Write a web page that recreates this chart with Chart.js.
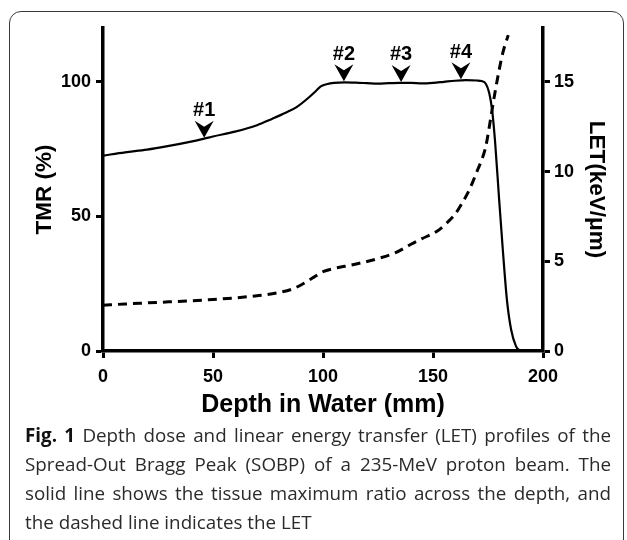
<!DOCTYPE html>
<html><head><meta charset="utf-8">
<script src="https://cdn.jsdelivr.net/npm/chart.js@4.4.1/dist/chart.umd.min.js"></script>
<style>
html,body{margin:0;padding:0;background:#fff;width:627px;height:540px;overflow:hidden;}
#frame{position:absolute;left:9px;top:11px;width:613px;height:600px;border:1.5px solid #3a3a3a;border-radius:12px;}
#wrap{position:absolute;left:0;top:0;width:627px;height:430px;}
#cap{position:absolute;left:25px;top:421px;width:586px;font-family:"Open Sans";font-size:18.8px;line-height:29px;color:#2a2a2a;}
#cap b{color:#111;}
#cap div{text-align:justify;text-align-last:justify;white-space:nowrap;}
#cap div.last{text-align-last:left;}
</style></head>
<body>
<div id="frame"></div>
<div id="wrap"><canvas id="c" width="627" height="430"></canvas></div>
<div id="cap">
<div><b>Fig. 1</b> Depth dose and linear energy transfer (LET) profiles of the</div>
<div>Spread-Out Bragg Peak (SOBP) of a 235-MeV proton beam. The</div>
<div>solid line shows the tissue maximum ratio across the depth, and</div>
<div class="last">the dashed line indicates the LET</div>
</div>
<script>
// ---- data ----
const depthTMR = [0,10,20,30,40,46,50,60,70,77,83,88,93,97,99,102,105,110,115,120,125,130,135,140,145,150,155,160,165,170,172,174,175.5,176.8,178.2,180,181.7,183.6,185.5,187.7,189.5];
const tmrValues = [72.6,73.8,74.8,76.2,77.8,78.9,79.7,81.5,83.9,86.3,88.5,90.6,93.8,96.8,98.3,99.2,99.6,99.8,99.7,99.5,99.3,99.5,99.6,99.6,99.4,99.6,100.0,100.4,100.6,100.5,100.3,99.3,96,90,78,57,38,19,8,1.8,0];
const depthLET = [0,10,20,30,40,50,60,70,80,86,90,95,100,105,110,118,125,133,140,145,152,156,160,163,166,168,170.3,172,174,176.4,178.6,181.7,184.2];
const letValues = [2.55,2.62,2.68,2.74,2.8,2.87,2.96,3.08,3.26,3.45,3.68,4.05,4.42,4.6,4.72,4.93,5.15,5.48,5.95,6.26,6.69,7.1,7.62,8.2,8.85,9.4,10.1,10.6,11.4,13.1,14.7,16.6,17.6];
const xTicks = [0,50,100,150,200];
const leftTicks = [0,50,100];
const rightTicks = [0,5,10,15];
const markerLabels = ['#1','#2','#3','#4'];
const markerDepths = [46,109.5,135.5,162.7];
const markerTMR = [78.9,99.8,99.6,100.6];

const FONT = '"Liberation Sans", Arial, sans-serif';

const markerPlugin = {
  id: 'markers',
  afterDatasetsDraw(chart) {
    const ctx = chart.ctx, xs = chart.scales.x, ys = chart.scales.y;
    ctx.save();
    ctx.fillStyle = '#000';
    ctx.font = 'bold 20px ' + FONT;
    ctx.textAlign = 'center';
    ctx.textBaseline = 'middle';
    markerLabels.forEach((lab, i) => {
      const px = xs.getPixelForValue(markerDepths[i]);
      const py = ys.getPixelForValue(markerTMR[i]) - 1;
      ctx.beginPath();
      ctx.moveTo(px, py);
      ctx.lineTo(px - 9.5, py - 17);
      ctx.lineTo(px, py - 11);
      ctx.lineTo(px + 9.5, py - 17);
      ctx.closePath();
      ctx.fill();
      ctx.fillText(lab, px, py - 27);
    });
    ctx.restore();
  }
};

function axisCommon(ticksArr) {
  return {
    border: {display: true, color: '#000', width: 3.5},
    grid: {display: true, drawOnChartArea: false, drawTicks: true, tickLength: 7, tickWidth: 3, tickColor: '#000'},
    afterBuildTicks: s => { s.ticks = ticksArr.map(v => ({value: v})); }
  };
}

new Chart(document.getElementById('c'), {
  type: 'line',
  data: {
    datasets: [
      {
        label: 'TMR',
        data: depthTMR.map((d, i) => ({x: d, y: tmrValues[i]})),
        yAxisID: 'y',
        borderColor: '#000', borderWidth: 2.2,
        pointRadius: 0, fill: false,
        cubicInterpolationMode: 'monotone'
      },
      {
        label: 'LET',
        data: depthLET.map((d, i) => ({x: d, y: letValues[i]})),
        yAxisID: 'y2',
        borderColor: '#000', borderWidth: 3,
        borderDash: [9, 6], borderCapStyle: 'butt',
        pointRadius: 0, fill: false,
        cubicInterpolationMode: 'monotone'
      }
    ]
  },
  options: {
    responsive: false,
    animation: false,
    devicePixelRatio: 1,
    layout: {padding: {top: 28, left: 0, right: 0, bottom: 0}},
    plugins: {legend: {display: false}, tooltip: {enabled: false}},
    scales: {
      x: Object.assign(axisCommon(xTicks), {
        type: 'linear', min: 0, max: 200, position: 'bottom',
        ticks: {color: '#000', padding: 8, font: {family: FONT, size: 18, weight: 'bold'}},
        title: {display: true, text: 'Depth in Water (mm)', color: '#000', font: {family: FONT, size: 25, weight: 'bold', lineHeight: 1}, padding: {top: 0, bottom: 12.5}},
        afterFit: s => { s.height = 79; }
      }),
      y: Object.assign(axisCommon(leftTicks), {
        type: 'linear', min: 0, max: 120, position: 'left',
        ticks: {color: '#000', padding: 5, font: {family: FONT, size: 18, weight: 'bold'}},
        title: {display: true, text: 'TMR (%)', color: '#000', font: {family: FONT, size: 22.5, weight: 'bold', lineHeight: 1}, padding: {top: 33.5, bottom: 0}},
        afterFit: s => { s.width = 103; }
      }),
      y2: Object.assign(axisCommon(rightTicks), {
        type: 'linear', min: 0, max: 18, position: 'right',
        ticks: {color: '#000', padding: 4, font: {family: FONT, size: 18, weight: 'bold'}},
        title: {display: true, text: 'LET(keV/μm)', color: '#000', font: {family: FONT, size: 22.5, weight: 'bold', lineHeight: 1}, padding: {top: 19.75, bottom: 0}},
        afterFit: s => { s.width = 84; }
      })
    }
  },
  plugins: [markerPlugin]
});
</script>
</body></html>
